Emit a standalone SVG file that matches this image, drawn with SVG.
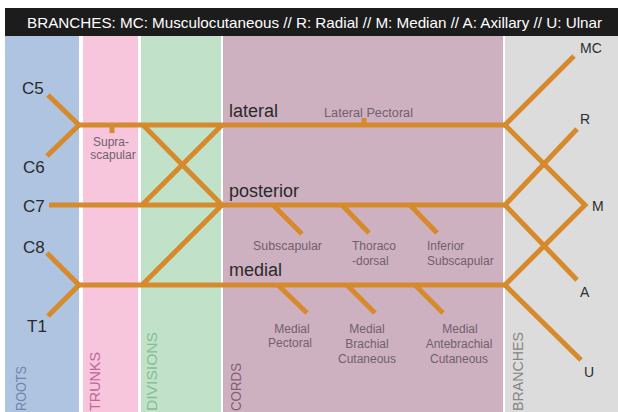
<svg xmlns="http://www.w3.org/2000/svg" width="618" height="412" viewBox="0 0 618 412">
<style>
text{font-family:"Liberation Sans",Arial,sans-serif}
.hdr{fill:#ffffff;font-size:15px}
.root{fill:#2a2a2a;font-size:17px}
.cord{fill:#2a2a2a;font-size:18px}
.br{fill:#2e2e2e;font-size:14px}
.sm{fill:#735f6d;font-size:12px}
.mid{text-anchor:middle}
.col{font-size:14px}
.nerve{stroke:#d68a2c;stroke-width:5;fill:none;stroke-linecap:butt}
</style>
<rect width="618" height="412" fill="#ffffff"/>
<g id="panels">
<rect x="5" y="36" width="74" height="376" fill="#afc4e1"/>
<rect x="83" y="36" width="55" height="376" fill="#f7c6dc"/>
<rect x="141" y="36" width="80" height="376" fill="#c1e2c9"/>
<rect x="223" y="36" width="280" height="376" fill="#ceb1c1"/>
<rect x="505" y="36" width="113" height="376" fill="#dcdcdc"/>
</g>
<g id="header">
<rect x="5" y="8" width="613" height="28" fill="#1c1c1c"/>
<text class="hdr" x="27" y="28" textLength="575" lengthAdjust="spacingAndGlyphs">BRANCHES: MC: Musculocutaneous // R: Radial // M: Median // A: Axillary // U: Ulnar</text>
</g>
<g id="column-labels">
<text class="col" transform="translate(26,411) rotate(-90)" fill="#6f87ae" textLength="45" lengthAdjust="spacingAndGlyphs">ROOTS</text>
<text class="col" transform="translate(100,411) rotate(-90)" fill="#c2649a" textLength="59" lengthAdjust="spacingAndGlyphs">TRUNKS</text>
<text class="col" transform="translate(157,411) rotate(-90)" fill="#88bc96" textLength="79" lengthAdjust="spacingAndGlyphs">DIVISIONS</text>
<text class="col" transform="translate(241,411) rotate(-90)" fill="#866074" textLength="48" lengthAdjust="spacingAndGlyphs">CORDS</text>
<text class="col" transform="translate(523,411) rotate(-90)" fill="#858585" textLength="79" lengthAdjust="spacingAndGlyphs">BRANCHES</text>
</g>
<g id="connectors">
<path class="nerve" d="M48,95 L79,125 L47,156"/>
<path class="nerve" d="M47,253 L79,285 L48,316"/>
<path class="nerve" d="M78,125 H505"/>
<path class="nerve" d="M49,205 H505"/>
<path class="nerve" d="M78,285 H505"/>
<path class="nerve" d="M143,125 L222,205"/>
<path class="nerve" d="M142,205 L222,125"/>
<path class="nerve" d="M142,285 L222,205"/>
<path class="nerve" d="M112,125 V133"/>
<path class="nerve" d="M364,125 V118"/>
<path class="nerve" d="M273,205 L302,234"/>
<path class="nerve" d="M342,205 L369,233"/>
<path class="nerve" d="M410,205 L437,233"/>
<path class="nerve" d="M278,285 L307,313"/>
<path class="nerve" d="M347,285 L375,313"/>
<path class="nerve" d="M415,285 L443,313"/>
<path class="nerve" d="M574,56 L505,125 L585,205 L505,285 L581,360"/>
<path class="nerve" d="M577,129 L505,205 L577,280"/>
</g>
<g id="roots">
<text class="root" x="22" y="94">C5</text>
<text class="root" x="23" y="173">C6</text>
<text class="root" x="23" y="212">C7</text>
<text class="root" x="23" y="253">C8</text>
<text class="root" x="27" y="332">T1</text>
</g>
<g id="trunk-branches">
<text class="sm mid" x="111" y="146">Supra-</text>
<text class="sm mid" x="113" y="159">scapular</text>
</g>
<g id="cord-lateral">
<text class="cord" x="229" y="117">lateral</text>
<text class="sm" x="324" y="117" textLength="89" lengthAdjust="spacingAndGlyphs">Lateral Pectoral</text>
</g>
<g id="cord-posterior">
<text class="cord" x="229" y="197">posterior</text>
<text class="sm" x="253" y="250" textLength="69" lengthAdjust="spacingAndGlyphs">Subscapular</text>
<text class="sm" x="352" y="250">Thoraco</text>
<text class="sm" x="352" y="265">-dorsal</text>
<text class="sm" x="427" y="250">Inferior</text>
<text class="sm" x="427" y="265">Subscapular</text>
</g>
<g id="cord-medial">
<text class="cord" x="229" y="276">medial</text>
<text class="sm mid" x="292" y="333">Medial</text>
<text class="sm mid" x="290" y="347">Pectoral</text>
<text class="sm mid" x="367" y="333">Medial</text>
<text class="sm mid" x="367" y="348">Brachial</text>
<text class="sm mid" x="367" y="363">Cutaneous</text>
<text class="sm mid" x="460" y="333">Medial</text>
<text class="sm mid" x="459" y="348">Antebrachial</text>
<text class="sm mid" x="459" y="363">Cutaneous</text>
</g>
<g id="branches">
<text class="br" x="580" y="53">MC</text>
<text class="br" x="580" y="124">R</text>
<text class="br" x="592" y="211">M</text>
<text class="br" x="580" y="297">A</text>
<text class="br" x="584" y="377">U</text>
</g>
</svg>
